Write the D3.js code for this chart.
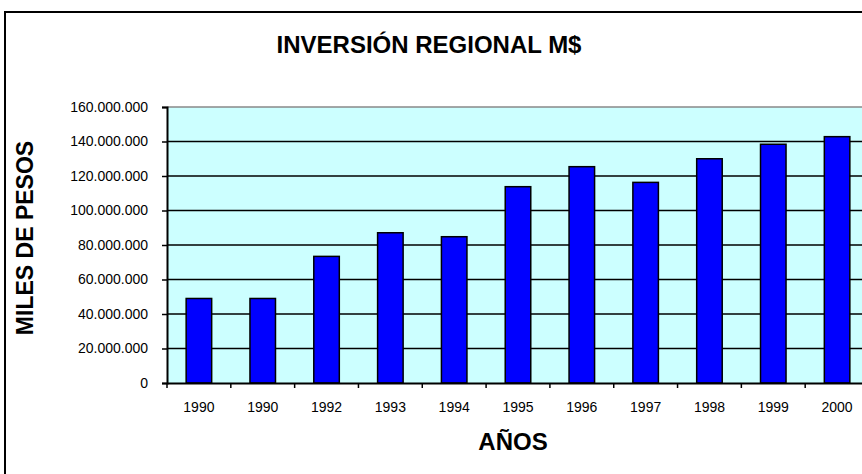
<!DOCTYPE html>
<html>
<head>
<meta charset="utf-8">
<script src="https://cdn.jsdelivr.net/npm/d3@7"></script>
<style>
  body { margin: 0; background: #fff; }
  svg { display: block; font-family: Arial, "Liberation Sans", sans-serif; }
</style>
</head>
<body>
<svg width="862" height="474"></svg>
<script>
var svg = d3.select("svg");

// data
var years = ["1990", "1990", "1992", "1993", "1994", "1995", "1996", "1997", "1998", "1999", "2000"];
var values = [49000000, 49000000, 73400000, 87100000, 84800000, 113800000, 125400000, 116300000, 130000000, 138400000, 142800000];
var yTicks = [0, 20000000, 40000000, 60000000, 80000000, 100000000, 120000000, 140000000, 160000000];

var data = years.map(function(d, i) { return {key: i, year: d, value: values[i]}; });

// plot area
var margin = {top: 107, left: 167},
    width = 702,
    height = 276;

// chart border
svg.append("rect")
  .attr("x", 5).attr("y", 12)
  .attr("width", 900).attr("height", 500)
  .attr("fill", "#fff")
  .attr("stroke", "#000")
  .attr("stroke-width", 2);

var g = svg.append("g")
  .attr("transform", "translate(" + margin.left + "," + margin.top + ")");

var x = d3.scaleBand().domain(data.map(function(d) { return d.key; })).range([0, width]).paddingInner(0.6).paddingOuter(0.3);
var xTick = d3.scaleBand().domain(data.map(function(d) { return d.key; })).range([0, width]);
var y = d3.scaleLinear().domain([0, 160000000]).range([height, 0]);

// plot background
g.append("rect")
  .attr("width", width).attr("height", height)
  .attr("fill", "#ccffff");

// top edge grey
g.append("line")
  .attr("x1", 0).attr("x2", width)
  .attr("y1", 0).attr("y2", 0)
  .attr("stroke", "#888").attr("stroke-width", 1.5);

// gridlines
g.selectAll(".grid")
  .data(yTicks.filter(function(d) { return d > 0 && d < 160000000; }))
  .enter().append("line")
  .attr("class", "grid")
  .attr("x1", 0).attr("x2", width)
  .attr("y1", function(d) { return y(d); })
  .attr("y2", function(d) { return y(d); })
  .attr("stroke", "#000").attr("stroke-width", 1.5);

// bars
g.selectAll(".bar")
  .data(data)
  .enter().append("rect")
  .attr("class", "bar")
  .attr("x", function(d) { return x(d.key); })
  .attr("width", x.bandwidth())
  .attr("y", function(d) { return y(d.value); })
  .attr("height", function(d) { return height - y(d.value); })
  .attr("fill", "#0000ff")
  .attr("stroke", "#000")
  .attr("stroke-width", 1.5);

// y axis
var fmt = function(d) { return d3.format(",")(d).replace(/,/g, "."); };
var yAxis = g.append("g")
  .call(d3.axisLeft(y).tickValues(yTicks).tickFormat(fmt).tickSize(5).tickPadding(14));
yAxis.select(".domain").attr("stroke-width", 2);
yAxis.selectAll(".tick line").attr("stroke-width", 1.5);
yAxis.selectAll("text").attr("font-size", 14).attr("fill", "#000")
  .attr("font-family", "Arial, 'Liberation Sans', sans-serif");

// x axis
var xAxis = g.append("g")
  .attr("transform", "translate(0," + height + ")")
  .call(d3.axisBottom(xTick).tickSize(0).tickFormat(function(d) { return years[d]; }).tickPadding(19));
xAxis.select(".domain").attr("stroke-width", 2);
xAxis.selectAll("text").attr("font-size", 14).attr("fill", "#000")
  .attr("font-family", "Arial, 'Liberation Sans', sans-serif");
xAxis.selectAll(".sep")
  .data(d3.range(years.length + 1))
  .enter().append("line")
  .attr("class", "sep")
  .attr("x1", function(d) { return d * xTick.step(); })
  .attr("x2", function(d) { return d * xTick.step(); })
  .attr("y1", 0).attr("y2", 5)
  .attr("stroke", "#000").attr("stroke-width", 1.5);

// titles
svg.append("text")
  .attr("x", 429).attr("y", 53)
  .attr("text-anchor", "middle")
  .attr("font-size", 24).attr("font-weight", "bold")
  .text("INVERSIÓN REGIONAL M$");

svg.append("text")
  .attr("x", 513).attr("y", 450)
  .attr("text-anchor", "middle")
  .attr("font-size", 24).attr("font-weight", "bold")
  .text("AÑOS");

svg.append("text")
  .attr("transform", "translate(33,238) rotate(-90)")
  .attr("text-anchor", "middle")
  .attr("font-size", 23).attr("font-weight", "bold")
  .text("MILES DE PESOS");
</script>
</body>
</html>
